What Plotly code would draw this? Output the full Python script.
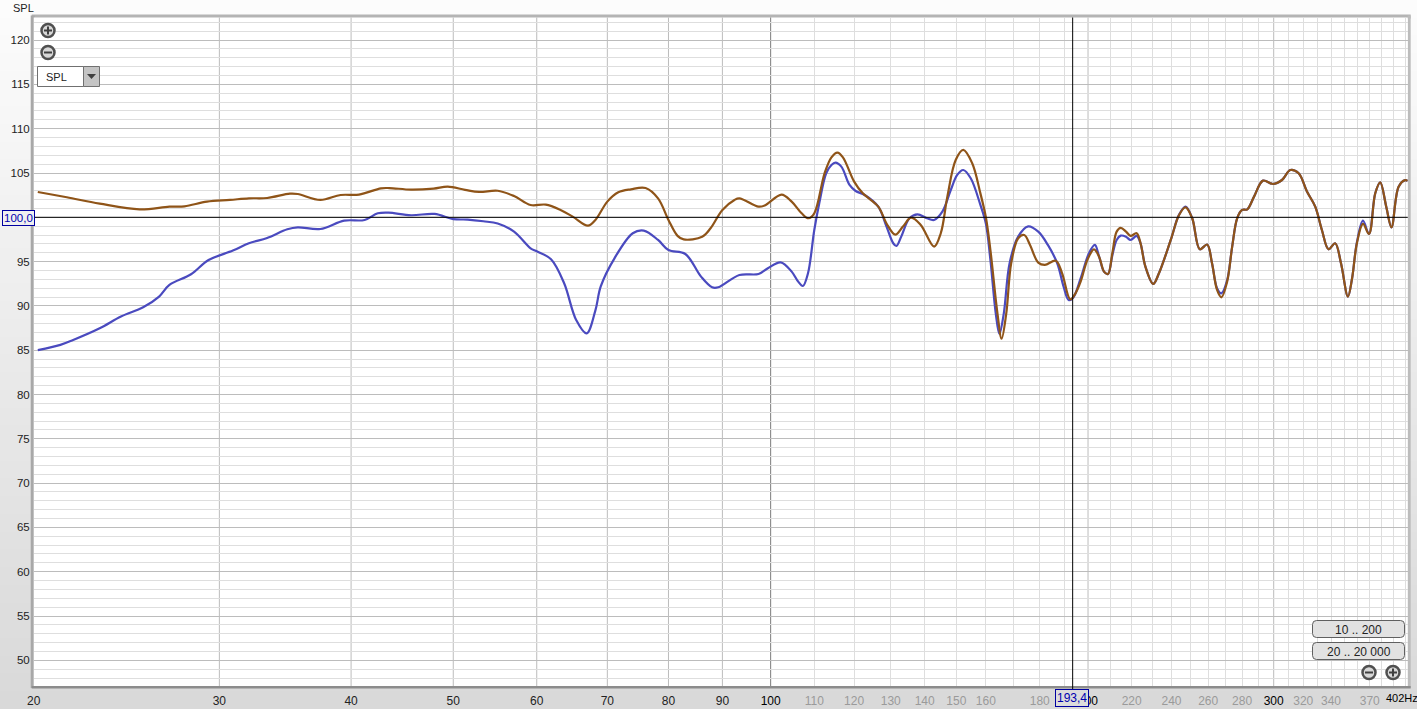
import math
import plotly.graph_objects as go

# ---------- data ----------
brown_freq = [20.18, 21.5, 23.1, 25.2, 26.9, 27.8, 29.2, 30.7, 32.0, 33.3, 35.0, 35.6, 37.4, 39.1, 40.7, 42.7, 43.5, 45.6, 47.9, 49.4, 51.3, 52.9, 55.1,
              57.1, 59.2, 61.2, 63.2, 64.9, 67.1, 68.2, 70.0, 71.7, 73.7, 76.1, 78.2, 80.0, 81.6, 82.7, 86.1, 87.7, 90.0, 92.4, 93.4, 97.4, 98.7,
              102.4, 104.7, 107.0, 108.6, 110.0, 112.5, 114.2, 115.7, 117.1, 120.0, 122.3, 126.5, 128.8, 131.3, 133.5, 135.9, 138.8, 142.9, 145.0,
              147.1, 149.8, 152.3, 155.3, 158.1, 160.0, 161.6, 164.1, 165.6, 167.3, 169.1, 171.7, 174.0, 176.2, 179.4, 182.0, 186.4, 189.0, 192.4,
              194.6, 196.8, 199.7, 202.6, 204.9, 207.1, 208.9, 210.9, 212.9, 214.8, 217.3, 219.5, 222.4, 224.3, 226.7, 230.6, 233.5, 239.6, 244.0,
              247.5, 251.1, 255.3, 259.4, 262.2, 265.1, 267.6, 271.0, 274.0, 277.0, 280.0, 283.2, 287.4, 293.1, 299.6, 305.5, 311.1, 316.8, 322.6,
              328.5, 333.3, 338.2, 343.1, 347.5, 352.8, 356.0, 359.8, 364.6, 369.4, 374.5, 378.6, 383.6, 388.0, 394.1, 399.8, 402.0]
brown_spl = [102.86, 102.26, 101.54, 100.9, 101.2, 101.24, 101.77, 101.96, 102.14, 102.18, 102.67, 102.63, 101.96, 102.52, 102.56, 103.27, 103.3, 103.12, 103.24, 103.46, 103.1, 102.86, 103.0,
             102.4, 101.39, 101.43, 100.83, 100.08, 99.06, 99.7, 101.77, 102.82, 103.16, 103.31, 102.14, 99.7, 97.9, 97.5, 97.8, 98.76, 100.83, 101.96, 102.14, 101.2, 101.32,
             102.56, 101.77, 100.45, 99.89, 100.45, 104.97, 106.77, 107.3, 106.77, 104.03, 102.7, 101.2, 99.3, 98.04, 98.95, 99.96, 99.13, 96.7, 98.2,
             102.33, 106.47, 107.6, 106.1, 102.7, 100.0, 96.3, 89.16, 86.3, 89.16, 94.8, 97.63, 98.0, 96.88, 94.88, 94.62, 95.1, 93.68, 90.74,
             91.42, 92.74, 95.18, 96.39, 95.56, 93.87, 93.6, 95.94, 98.38, 98.8, 98.38, 97.9, 98.2, 97.07, 94.43, 92.48, 93.68, 97.44, 100.26,
             101.13, 99.89, 96.39, 96.92, 94.81, 91.8, 90.97, 92.74, 96.69, 99.89, 100.83, 100.9, 102.33, 104.14, 103.76, 104.21, 105.34, 104.97, 102.9,
             101.2, 98.57, 96.39, 97.07, 94.81, 91.05, 93.1, 97.07, 99.25, 98.12, 102.71, 103.95, 101.2, 98.87, 103.46, 104.2, 104.1]

blue_freq = [20.18, 21.2, 21.8, 23.1, 24.2, 25.4, 26.3, 26.9, 28.2, 29.3, 30.9, 32.0, 33.3, 34.8, 35.6, 37.4, 39.4, 41.2, 42.4, 43.4, 45.6, 48.0, 50.0, 51.6, 53.4, 55.1,
             57.1, 59.2, 60.0, 61.9, 63.7, 65.4, 66.9, 68.2, 69.0, 71.1, 74.0, 75.8, 78.2, 80.0, 83.0, 85.9, 88.0, 89.2, 93.4, 97.4, 99.4, 102.2, 104.7, 106.2, 107.3, 108.5,
             110.0, 111.2, 112.9, 114.2, 115.2, 116.7, 118.8, 120.4, 122.8, 126.5, 128.8, 130.7, 131.6, 133.0, 135.4, 137.8, 140.7, 142.9, 145.5, 148.2, 150.3, 152.3, 154.8,
             158.1, 160.0, 161.6, 163.5, 164.8, 166.4, 168.5, 171.7, 175.5, 179.4, 183.2, 187.0, 189.6, 191.7, 193.6, 196.8, 200.4, 203.0, 204.9, 207.1, 208.9, 210.9, 212.9,
             214.8, 217.3, 219.5, 222.4, 224.3, 226.7, 230.6, 233.5, 239.6, 244.0, 247.5, 251.1, 255.3, 259.4, 262.2, 265.1, 267.6, 271.0, 274.0, 277.0, 280.0, 283.2, 287.4,
             293.1, 299.6, 305.5, 311.1, 316.8, 322.6, 328.5, 333.3, 338.2, 343.1, 347.5, 352.8, 356.0, 359.8, 364.6, 369.4, 374.5, 378.6, 383.6, 388.0, 394.1, 399.8, 402.0]
blue_spl = [85.0, 85.6, 86.15, 87.47, 88.8, 89.84, 91.05, 92.36, 93.57, 95.18, 96.24, 97.07, 97.67, 98.65, 98.87, 98.68, 99.62, 99.7, 100.45, 100.53, 100.23, 100.38, 99.8, 99.74, 99.55, 99.3,
            98.38, 96.5, 96.16, 95.26, 92.55, 88.4, 86.9, 89.5, 92.2, 95.37, 98.2, 98.5, 97.44, 96.3, 95.86, 93.3, 92.1, 92.1, 93.49, 93.6, 94.24, 94.92, 93.87, 92.74, 92.25, 93.68,
            98.57, 101.58, 104.97, 105.9, 106.17, 105.72, 103.65, 102.97, 102.52, 101.2, 98.95, 97.07, 96.76, 97.82, 99.89, 100.34, 99.89, 99.7, 100.64, 103.08, 104.78, 105.34, 104.4,
            101.4, 99.3, 95.18, 89.16, 86.83, 89.16, 94.8, 97.82, 98.98, 98.38, 96.88, 94.8, 92.17, 90.67, 90.93, 93.1, 95.94, 96.88, 95.56, 93.87, 93.6, 95.7, 97.44,
            97.93, 97.8, 97.44, 97.9, 97.07, 94.43, 92.48, 93.68, 97.44, 100.3,
            101.2, 99.89, 96.39, 96.92, 94.81, 92.0, 91.42, 92.9, 96.69, 99.89, 100.83, 100.9, 102.33,
            104.14, 103.76, 104.21, 105.34, 104.97, 102.9, 101.2, 98.57, 96.39, 97.07, 94.81, 91.05, 93.1, 97.2, 99.62, 98.12, 102.71, 103.95, 101.2, 98.87, 103.46, 104.2, 104.1]

x_major = [30, 40, 50, 60, 70, 80, 90, 200, 300]
x_minor = [110, 120, 130, 140, 150, 160, 170, 180, 190, 210, 220, 230, 240, 250, 260, 270, 280, 290,
           310, 320, 330, 340, 350, 360, 370, 380, 390, 400]
x_dark_labels = [20, 30, 40, 50, 60, 70, 80, 90, 100, 200, 300]
x_grey_labels = [110, 120, 130, 140, 150, 160, 180, 220, 240, 260, 280, 320, 340, 370]
y_major = list(range(50, 125, 5))
y_minor = [v for v in range(47, 123) if v % 5]
x_range_hz = [20, 402]
y_range_db = [47.1, 122.55]
cursor_hz = 193.4
cursor_db = 100.0
cursor_hz_text = "193,4"
cursor_db_text = "100,0"

# ---------- page geometry (pixels) ----------
W, H = 1417, 709
L, R, T, B = 33.7, 1407.7, 17.5, 686.0
def px(x): return x / W
def py(y): return 1 - y / H

shapes = []
annots = []

def rect(x0, y0, x1, y1, fill, line=None, lw=1, layer="below"):
    shapes.append(dict(type="rect", xref="paper", yref="paper", x0=px(x0), x1=px(x1), y0=py(y0), y1=py(y1),
                       fillcolor=fill, line=dict(color=line or "rgba(0,0,0,0)", width=lw if line else 0), layer=layer))

def label(x, y, s, size=11, color="#222222", anchor="center", **kw):
    annots.append(dict(xref="paper", yref="paper", x=px(x), y=py(y), text=s, showarrow=False, xanchor=anchor,
                       yanchor="middle", font=dict(family="Liberation Sans, Arial", size=size, color=color), **kw))

# background gradient: near white at the top, grey at the bottom
bands = 40
for i in range(bands):
    t = i / (bands - 1)
    c = int(round(252 - (252 - 217) * t))
    rect(0, H * i / bands, W, H * (i + 1) / bands + 1, f"rgb({c},{c},{c})")

# plot area and shadow frame
rect(L - 2, T - 3, R + 3, T + 1, "#b4b4b4")
rect(L - 3, T - 2, L + 1, B + 2, "#a8a8a8")
rect(R, T - 2, R + 3, B + 2, "#bcbcbc")
rect(L - 2, B, R + 3, B + 2.5, "#8c8c8c")
rect(L, T, R, B, "#ffffff")

def icon(cx, cy, plus):
    r = 6.5
    shapes.append(dict(type="circle", xref="paper", yref="paper", x0=px(cx - r), x1=px(cx + r), y0=py(cy - r), y1=py(cy + r),
                       fillcolor="#d8d8d8", line=dict(color="#505050", width=2.5), layer="above"))
    rect(cx - 4, cy - 1, cx + 4, cy + 1, "#404040", layer="above")
    if plus:
        rect(cx - 1, cy - 4, cx + 1, cy + 4, "#404040", layer="above")

icon(48, 30.5, True)
icon(48, 52.5, False)
icon(1369, 672.5, False)
icon(1393, 672.5, True)

# SPL selector
rect(37.5, 66.5, 83.5, 86.5, "#ffffff", "#707070", 1, "above")
rect(83.5, 66.5, 99.5, 86.5, "#c4c4c4", "#707070", 1, "above")
shapes.append(dict(type="path", xref="paper", yref="paper", layer="above", fillcolor="#404040", line=dict(width=0),
                   path=f"M {px(87)} {py(74)} L {px(96)} {py(74)} L {px(91.5)} {py(79)} Z"))
label(44, 77, "SPL", anchor="left")

# range buttons
def button(x0, y0, x1, y1, s):
    r = 4
    p = (f"M {px(x0 + r)} {py(y0)} L {px(x1 - r)} {py(y0)} Q {px(x1)} {py(y0)} {px(x1)} {py(y0 + r)} "
         f"L {px(x1)} {py(y1 - r)} Q {px(x1)} {py(y1)} {px(x1 - r)} {py(y1)} "
         f"L {px(x0 + r)} {py(y1)} Q {px(x0)} {py(y1)} {px(x0)} {py(y1 - r)} "
         f"L {px(x0)} {py(y0 + r)} Q {px(x0)} {py(y0)} {px(x0 + r)} {py(y0)} Z")
    shapes.append(dict(type="path", xref="paper", yref="paper", layer="above", path=p, fillcolor="#e2e2e2",
                       line=dict(color="#606060", width=1)))
    label((x0 + x1) / 2, (y0 + y1) / 2 + 0.5, s, size=12)

button(1312.5, 620.5, 1404.5, 637.5, "10 .. 200")
button(1312.5, 642.5, 1404.5, 659.5, "20 .. 20 000")

# axis texts
label(11, 8, "SPL", anchor="left")
label(1384, 698, "402Hz", color="#000000", anchor="left", size=11)
label(18, 218, cursor_db_text, color="#0000b0", bordercolor="#0000a0", borderwidth=1, borderpad=1, bgcolor="#f0f0f0", size=11.5)
label(1071.5, 698, cursor_hz_text, color="#0000b0", bordercolor="#0000a0", borderwidth=1, borderpad=1, bgcolor="#dcdcdc", size=12)

# x tick labels
x_tick_vals = x_dark_labels + x_grey_labels
def xt(v):
    if v in x_grey_labels:
        return f'<span style="color:#9a9a9a">{v}</span>'
    return f'<span style="color:#000000">{v}</span>' if v >= 100 else str(v)
x_tick_text = [xt(v) for v in x_tick_vals]

# dark line at 100 Hz and the cursor
for v in x_major:
    shapes.append(dict(type="line", xref="x", yref="paper", x0=v, x1=v, y0=py(B), y1=py(T), line=dict(color="#bcbcbc", width=1), layer="below"))
shapes.append(dict(type="line", xref="x", yref="paper", x0=100, x1=100, y0=py(B), y1=py(T), line=dict(color="#7c7c7c", width=1), layer="below"))
shapes.append(dict(type="line", xref="x", yref="paper", x0=cursor_hz, x1=cursor_hz, y0=py(691), y1=py(T), line=dict(color="#000000", width=1), layer="above"))
shapes.append(dict(type="line", xref="paper", yref="y", x0=px(L), x1=px(R), y0=cursor_db, y1=cursor_db, line=dict(color="#000000", width=1), layer="above"))

fig = go.Figure()
fig.add_trace(go.Scatter(x=blue_freq, y=blue_spl, mode="lines", name="blue", hoverinfo="skip",
                         line=dict(color="#4a4abf", width=2.2, shape="spline", smoothing=1.0)))
fig.add_trace(go.Scatter(x=brown_freq, y=brown_spl, mode="lines", name="brown", hoverinfo="skip",
                         line=dict(color="#8f5418", width=2.2, shape="spline", smoothing=1.0)))

fig.update_layout(
    width=W, height=H, autosize=False, showlegend=False,
    margin=dict(l=0, r=0, t=0, b=0, pad=0),
    paper_bgcolor="#e8e8e8", plot_bgcolor="rgba(0,0,0,0)",
    font=dict(family="Liberation Sans, Arial", size=11.5, color="#222222"),
    xaxis=dict(type="log", domain=[px(L), px(R)], range=[math.log10(x_range_hz[0]), math.log10(x_range_hz[1])],
               tickmode="array", tickvals=x_tick_vals, ticktext=x_tick_text, ticks="", ticklen=0,
               showgrid=False, zeroline=False, showline=False, tickangle=0, automargin=False,
               ticklabeloverflow="allow", ticklabelstandoff=6, tickfont=dict(size=12),
               minor=dict(tickmode="array", tickvals=x_minor, showgrid=True, gridcolor="#dedede", gridwidth=1, ticks="")),
    yaxis=dict(domain=[py(B), py(T)], range=y_range_db, tickmode="array", tickvals=y_major,
               ticktext=["" if v == 100 else str(v) for v in y_major], ticks="", showgrid=True, gridcolor="#bcbcbc", gridwidth=1,
               zeroline=False, showline=False, automargin=False, ticklabelstandoff=3,
               minor=dict(tickmode="array", tickvals=y_minor, showgrid=True, gridcolor="#dedede", gridwidth=1, ticks="")),
    shapes=shapes, annotations=annots,
)

fig.write_html("out.html", config={"displayModeBar": False},
               post_script="document.body.style.margin='0';document.body.style.overflow='hidden';")
